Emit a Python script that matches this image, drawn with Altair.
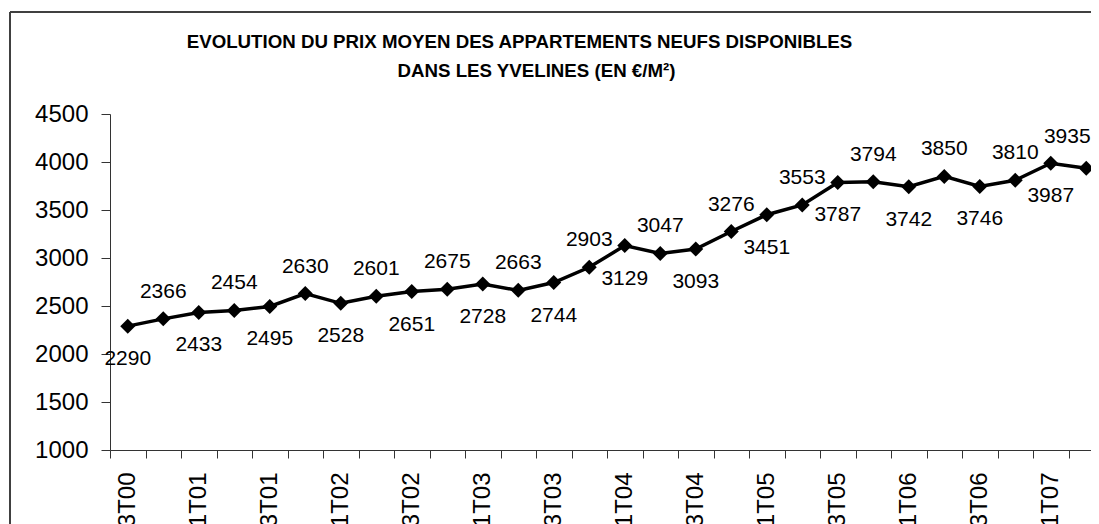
import altair as alt
import pandas as pd

quarters = ["3T00", "4T00", "1T01", "2T01", "3T01", "4T01", "1T02", "2T02",
            "3T02", "4T02", "1T03", "2T03", "3T03", "4T03", "1T04", "2T04",
            "3T04", "4T04", "1T05", "2T05", "3T05", "4T05", "1T06", "2T06",
            "3T06", "4T06", "1T07", "2T07"]
prices = [2290, 2366, 2433, 2454, 2495, 2630, 2528, 2601, 2651, 2675, 2728,
          2663, 2744, 2903, 3129, 3047, 3093, 3276, 3451, 3553, 3787, 3794,
          3742, 3850, 3746, 3810, 3987, 3935]
label_side = ["below", "above"] * 14
y_ticks = [1000, 1500, 2000, 2500, 3000, 3500, 4000, 4500]
title_lines = ["EVOLUTION DU PRIX MOYEN DES APPARTEMENTS NEUFS DISPONIBLES",
               "DANS LES YVELINES (EN €/M²)"]

FONT = "Liberation Sans"
W, H = 981, 336
PAD_L, PAD_T, PAD_B = 102, 106, 74
last_q = quarters[-1]

df = pd.DataFrame({"quarter": quarters, "price": prices, "side": label_side})

x_enc = alt.X(
    "quarter:N",
    sort=quarters,
    scale=alt.Scale(type="band", domain=quarters, range=[0, 994],
                    paddingInner=0, paddingOuter=0),
    axis=alt.Axis(
        title=None, tickBand="extent", labelAngle=270, labelOverlap=False,
        labelExpr="test(/^[24]T/, datum.value) ? '' : datum.label",
        tickSize=8, labelPadding=14, labelFontSize=24, labelFont=FONT,
        labelColor="#000", domainColor="#333", tickColor="#333", grid=False,
    ),
)
y_enc = alt.Y(
    "price:Q",
    scale=alt.Scale(domain=[1000, 4500], nice=False, zero=False),
    axis=alt.Axis(
        title=None, values=y_ticks, format="d", tickSize=9, labelPadding=13,
        labelFontSize=24, labelFont=FONT, labelColor="#000",
        domainColor="#333", tickColor="#333", grid=False,
    ),
)

base = alt.Chart(df).encode(x=x_enc, y=y_enc)

line = base.mark_line(color="black", strokeWidth=3.5)
points = base.mark_point(shape="diamond", filled=True, size=225,
                         color="black", opacity=1)
text_style = dict(fontSize=21, font=FONT, color="black", baseline="middle")
lab_above = base.transform_filter(
    (alt.datum.side == "above") & (alt.datum.quarter != last_q)
).mark_text(dy=-27, **text_style).encode(text=alt.Text("price:Q", format="d"))
lab_last = base.transform_filter(alt.datum.quarter == last_q).mark_text(
    dy=-31, dx=-19, **text_style
).encode(text=alt.Text("price:Q", format="d"))
lab_below = base.transform_filter(alt.datum.side == "below").mark_text(
    dy=33, **text_style
).encode(text=alt.Text("price:Q", format="d"))

frame_df = pd.DataFrame({"k": [0]})
border_top = alt.Chart(frame_df).mark_rule(
    color="#404040", strokeWidth=2
).encode(x=alt.value(-100), x2=alt.value(W), y=alt.value(-102))
border_left = alt.Chart(frame_df).mark_rule(
    color="#404040", strokeWidth=2
).encode(x=alt.value(-100), y=alt.value(-102), y2=alt.value(H + PAD_B))

t1 = alt.Chart(pd.DataFrame({"t": [title_lines[0]]})).mark_text(
    font=FONT, fontSize=18.7, fontWeight="bold", color="black",
    align="center", baseline="alphabetic"
).encode(text="t:N", x=alt.value(409.5), y=alt.value(-66))
t2 = alt.Chart(pd.DataFrame({"t": [title_lines[1]]})).mark_text(
    font=FONT, fontSize=18.7, fontWeight="bold", color="black",
    align="center", baseline="alphabetic"
).encode(text="t:N", x=alt.value(426.5), y=alt.value(-37))

chart = alt.layer(border_top, border_left, t1, t2, line, points, lab_above,
                  lab_last, lab_below).properties(
    width=W, height=H,
    padding={"left": PAD_L, "top": PAD_T, "right": 0, "bottom": PAD_B},
    autosize=alt.AutoSizeParams(type="none"),
    background="white",
).configure_view(stroke=None)

chart.save("out.html", embed_options={"renderer": "svg", "actions": False})
